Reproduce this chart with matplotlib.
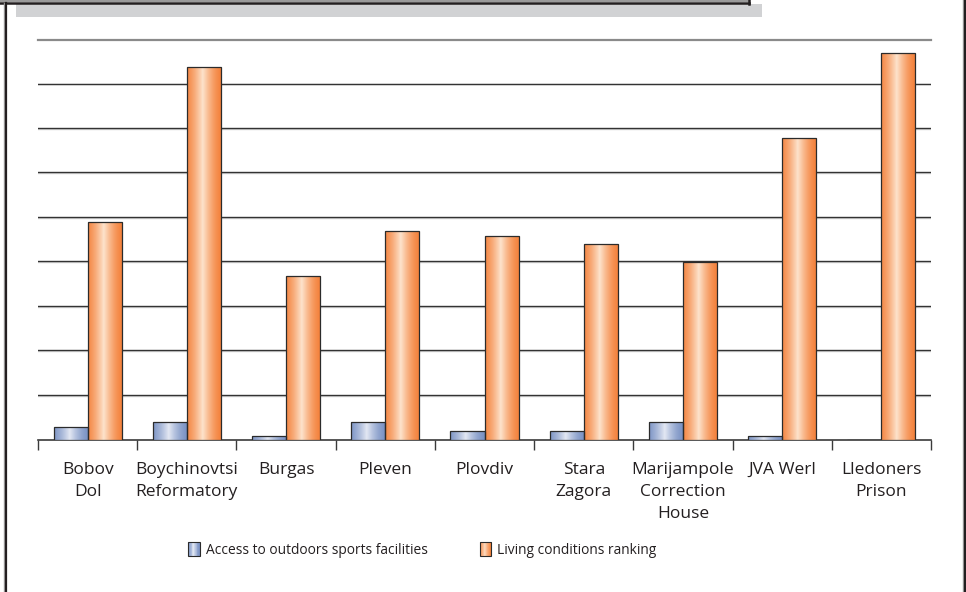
import numpy as np
import matplotlib
matplotlib.use('Agg')
import matplotlib.pyplot as plt
from matplotlib.patches import Rectangle
from matplotlib.lines import Line2D
from matplotlib.legend_handler import HandlerPatch
from matplotlib.colors import LinearSegmentedColormap

plt.rcParams['font.family'] = ['Open Sans', 'DejaVu Sans']

# data (gridline step = 10)
prisons = ['Bobov\nDol', 'Boychinovtsi\nReformatory', 'Burgas', 'Pleven', 'Plovdiv',
           'Stara\nZagora', 'Marijampole\nCorrection\nHouse', 'JVA Werl', 'Lledoners\nPrison']
outdoor_sports = [3, 4, 1, 4, 2, 2, 4, 1, 0]
living_rank = [49, 84, 37, 47, 46, 44, 40, 68, 87]
series_names = ['Access to outdoors sports facilities', 'Living conditions ranking']

blue_cmap = LinearSegmentedColormap.from_list('b', ['#7a92c4', '#e3e8f3'])
orange_cmap = LinearSegmentedColormap.from_list('o', ['#f4823c', '#fde3cc'])

# horizontal "cylinder" shading profile
t = np.linspace(0, 1, 64)
shade = np.clip(1 - np.abs(t - 0.45) / 0.55, 0, 1) ** 1.5
grad = shade.reshape(1, -1)

W, H = 966, 592
fig = plt.figure(figsize=(W / 100, H / 100), dpi=100)
ax = fig.add_axes([38 / W, 1 - 440 / H, (931 - 38) / W, 400 / H])

x = np.arange(len(prisons))
bw = 0.343
bars_b = ax.bar(x - bw / 2, outdoor_sports, width=bw, facecolor='none',
                edgecolor='#2b2b2b', linewidth=0.9, zorder=4)
bars_o = ax.bar(x + bw / 2, living_rank, width=bw, facecolor='none',
                edgecolor='#2b2b2b', linewidth=0.9, zorder=4)

for bars, cmap in ((bars_b, blue_cmap), (bars_o, orange_cmap)):
    for b in bars:
        h = b.get_height()
        if h <= 0:
            continue
        x0 = b.get_x()
        im = ax.imshow(grad, cmap=cmap, vmin=0, vmax=1, aspect='auto',
                       extent=(x0, x0 + b.get_width(), 0, h), zorder=3,
                       interpolation='bilinear')
        im.set_clip_path(b)

ax.set_xlim(-0.5, len(prisons) - 0.5)
ax.set_ylim(0, 90)

# gridlines: dark line with a light shadow under it
for yv in range(10, 90, 10):
    ax.axhline(yv, color='#d4d4d4', lw=1.0, zorder=1)
    ax.axhline(yv + 0.2, color='#333333', lw=1.0, zorder=2)
ax.axhline(90, color='#8a8a8a', lw=1.6, zorder=2, clip_on=False)

for s in ['top', 'right', 'left']:
    ax.spines[s].set_visible(False)
ax.spines['bottom'].set_color('#3a3a3a')
ax.spines['bottom'].set_linewidth(1.2)

ax.set_yticks([])
ax.set_xticks(np.arange(-0.5, len(prisons), 1.0))
ax.set_xticklabels([])
ax.set_xticks(x, minor=True)
ax.set_xticklabels(prisons, minor=True, fontsize=12.5, color='#231f20', linespacing=1.52)
ax.tick_params(axis='x', which='major', length=7, width=1.0, color='#3a3a3a', direction='out')
ax.tick_params(axis='x', which='minor', length=0, pad=15.5)
for lab in ax.get_xticklabels(minor=True):
    lab.set_verticalalignment('top')


class GradientHandler(HandlerPatch):
    def __init__(self, cmap):
        super().__init__()
        self.cmap = cmap

    def create_artists(self, legend, orig_handle, xdescent, ydescent, width, height,
                       fontsize, trans):
        arts = []
        n = 14
        for i in range(n):
            v = np.clip(1 - abs((i + 0.5) / n - 0.45) / 0.55, 0, 1) ** 1.5
            r = Rectangle((-xdescent + width * i / n, -ydescent), width / n + 0.3, height,
                          facecolor=self.cmap(v), edgecolor='none', transform=trans)
            arts.append(r)
        arts.append(Rectangle((-xdescent, -ydescent), width, height, facecolor='none',
                              edgecolor='#2b2b2b', lw=0.8, transform=trans))
        return arts


h1 = Rectangle((0, 0), 1, 1)
h2 = Rectangle((0, 0), 1, 1)
fig.legend([h1, h2], series_names, loc='center', bbox_to_anchor=(422.5 / W, 1 - 550 / H),
           ncol=2, frameon=False, fontsize=9.9, handlelength=0.85, handleheight=1.2,
           handletextpad=0.45, columnspacing=3.75, labelcolor='#231f20',
           handler_map={h1: GradientHandler(blue_cmap), h2: GradientHandler(orange_cmap)})

# page frame around the figure (cropped document box)
def fx(px):
    return px / W


def fy(py):
    return 1 - py / H


fig.patches.append(Rectangle((fx(16), fy(16.5)), fx(762) - fx(16), fy(4) - fy(16.5),
                             transform=fig.transFigure, facecolor='#d1d2d4', edgecolor='none'))
fig.lines.append(Line2D([fx(0), fx(749)], [fy(1), fy(1)], transform=fig.transFigure,
                        color='#9a9a9a', lw=1.5))
fig.lines.append(Line2D([fx(0), fx(749)], [fy(3), fy(3)], transform=fig.transFigure,
                        color='#231f20', lw=1.8))
fig.lines.append(Line2D([fx(749), fx(749)], [fy(0), fy(3.5)], transform=fig.transFigure,
                        color='#231f20', lw=1.8))
fig.lines.append(Line2D([fx(4), fx(4)], [fy(3), fy(592)], transform=fig.transFigure,
                        color='#a0a0a0', lw=1.0))
fig.lines.append(Line2D([fx(5.8), fx(5.8)], [fy(3), fy(592)], transform=fig.transFigure,
                        color='#231f20', lw=1.6))
fig.lines.append(Line2D([fx(963), fx(963)], [fy(0), fy(592)], transform=fig.transFigure,
                        color='#a0a0a0', lw=1.0))
fig.lines.append(Line2D([fx(964.6), fx(964.6)], [fy(0), fy(592)], transform=fig.transFigure,
                        color='#231f20', lw=1.6))

fig.savefig('out.png', dpi=100, facecolor='white')
